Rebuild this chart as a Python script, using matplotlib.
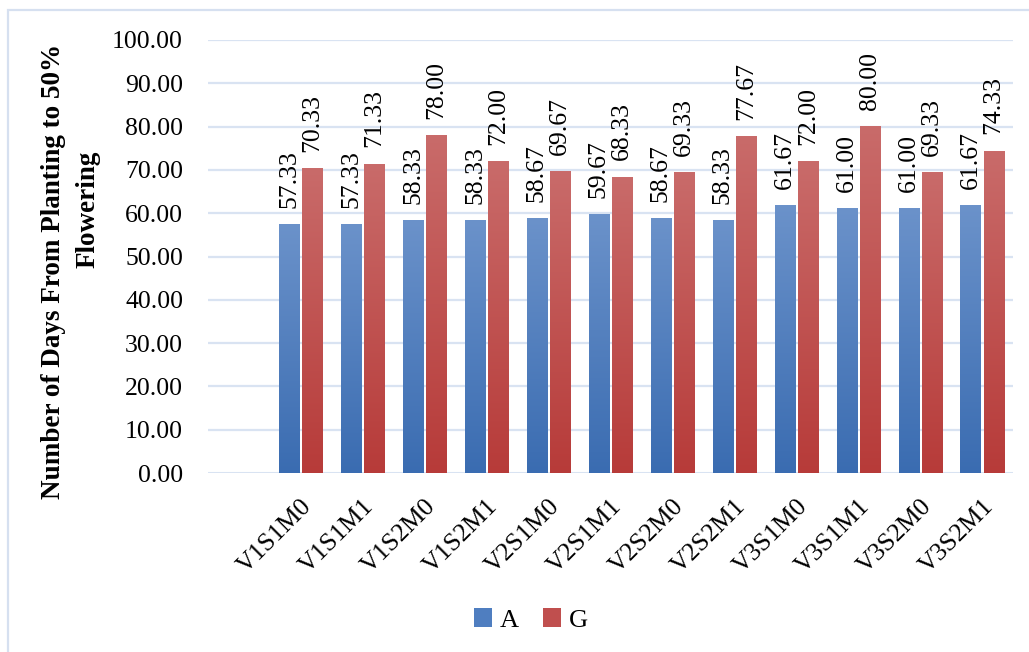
import numpy as np
import matplotlib
matplotlib.use("Agg")
import matplotlib.pyplot as plt
from matplotlib.colors import LinearSegmentedColormap
from matplotlib.patches import Rectangle

# Treatment combinations and days to 50% flowering
categories = ["V1S1M0", "V1S1M1", "V1S2M0", "V1S2M1", "V2S1M0", "V2S1M1",
              "V2S2M0", "V2S2M1", "V3S1M0", "V3S1M1", "V3S2M0", "V3S2M1"]
series_a = [57.33, 57.33, 58.33, 58.33, 58.67, 59.67, 58.67, 58.33, 61.67, 61.00, 61.00, 61.67]
series_g = [70.33, 71.33, 78.00, 72.00, 69.67, 68.33, 69.33, 77.67, 72.00, 80.00, 69.33, 74.33]
series_names = ["A", "G"]
y_ticks = [0, 10, 20, 30, 40, 50, 60, 70, 80, 90, 100]

W, H = 1029, 652
DPI = 100
plt.rcParams["font.family"] = ["Liberation Serif", "DejaVu Serif"]

fig = plt.figure(figsize=(W / DPI, H / DPI), dpi=DPI)
fig.patch.set_facecolor("white")

# Outer chart-area frame (left and top edges visible)
fig.patches.append(Rectangle((8 / W, -1), 1.2, 2 - 10 / H, transform=fig.transFigure,
                             fill=False, edgecolor="#d6e0f0", linewidth=1.6, zorder=0))

left, right, top, bottom = 208, 1013, 40, 473
ax = fig.add_axes([left / W, 1 - bottom / H, (right - left) / W, (bottom - top) / H])

grid_color = "#d9e3f2"
for t in y_ticks:
    ax.axhline(t, color=grid_color, linewidth=1.6 if t > 0 else 2.2, zorder=0)

x = np.arange(len(categories))
width = 0.323
offset = 0.187

blue_cmap = LinearSegmentedColormap.from_list("blue_grad", ["#3a6cb1", "#6b92ca"])
red_cmap = LinearSegmentedColormap.from_list("red_grad", ["#b73b39", "#c96b6a"])

bars_a = ax.bar(x - offset, series_a, width, color="none", edgecolor="none", zorder=2)
bars_g = ax.bar(x + offset, series_g, width, color="none", edgecolor="none", zorder=2)

grad = np.linspace(0, 1, 256).reshape(-1, 1)
for bars, cmap in ((bars_a, blue_cmap), (bars_g, red_cmap)):
    for b in bars:
        x0, y0 = b.get_x(), b.get_y()
        ax.imshow(grad, cmap=cmap, origin="lower", aspect="auto",
                  extent=(x0, x0 + b.get_width(), y0, y0 + b.get_height()), zorder=2)

for bars, vals in ((bars_a, series_a), (bars_g, series_g)):
    for b, v in zip(bars, vals):
        ax.annotate(f"{v:.2f}", (b.get_x() + b.get_width() / 2, v),
                    xytext=(0, 12), textcoords="offset points",
                    rotation=90, ha="center", va="bottom", fontsize=18.5,
                    color="black", annotation_clip=False)

ax.set_xlim(-1.5, len(categories) - 0.5)
ax.set_ylim(0, 100)
ax.set_yticks(y_ticks)
ax.set_yticklabels([f"{t:.2f}" for t in y_ticks], fontsize=18.5)
ax.set_xticks(x)
ax.set_xticklabels(categories, rotation=45, ha="right", rotation_mode="anchor", fontsize=18.5)
ax.tick_params(axis="y", length=0, pad=18)
ax.tick_params(axis="x", length=0, pad=16)
for s in ax.spines.values():
    s.set_visible(False)
ax.set_facecolor("none")

# Two-line axis title
fig.text(54 / W, 1 - 271 / H, "Number of Days From Planting to 50%", rotation=90,
         ha="center", va="center", fontsize=19.5, fontweight="bold")
fig.text(88 / W, 1 - 209 / H, "Flowering", rotation=90,
         ha="center", va="center", fontsize=19.5, fontweight="bold")

handles = [Rectangle((0, 0), 1, 1, facecolor="#4f7ec0"),
           Rectangle((0, 0), 1, 1, facecolor="#c04f4e")]
fig.legend(handles, series_names, loc="center", bbox_to_anchor=(531 / W, 1 - 620 / H),
           ncol=2, frameon=False, fontsize=19, handlelength=0.7, handleheight=0.7,
           handletextpad=0.3, columnspacing=0.9)

fig.savefig("out.png", dpi=DPI, facecolor="white")
